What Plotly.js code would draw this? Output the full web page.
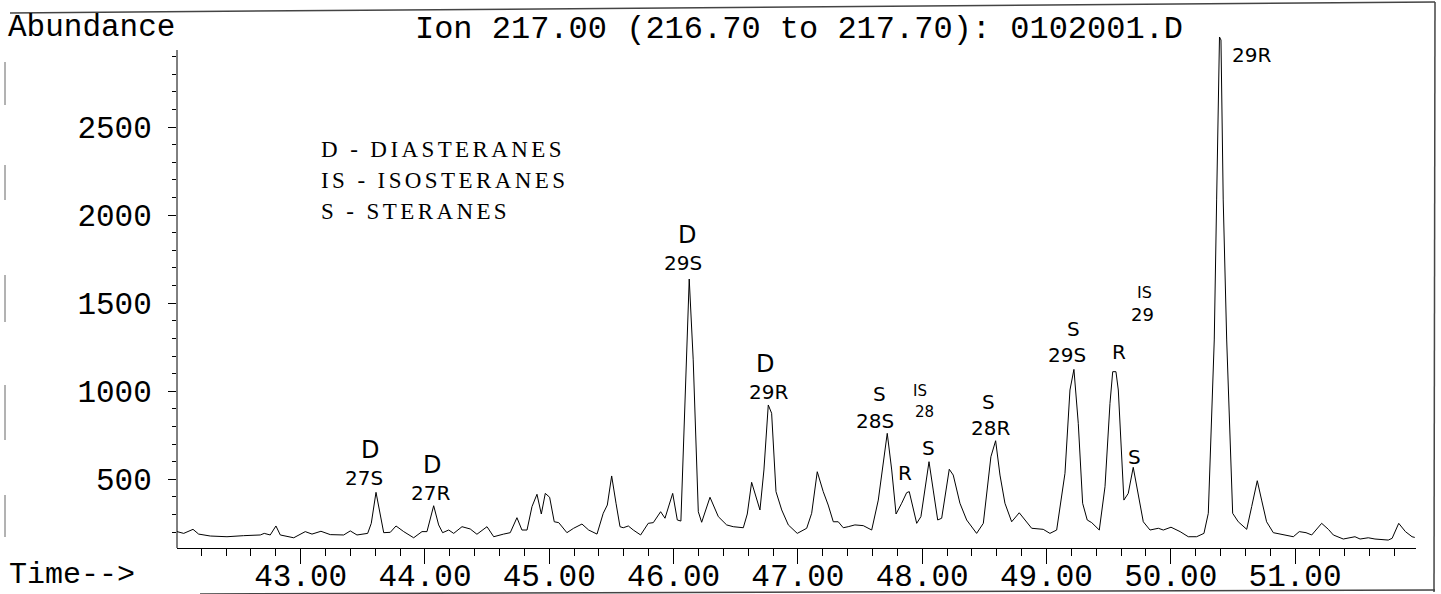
<!DOCTYPE html>
<html><head><meta charset="utf-8">
<script src="https://cdn.plot.ly/plotly-3.0.1.min.js"></script>
<style>html,body{margin:0;padding:0;background:#fff}#chart{width:1441px;height:594px}</style>
</head><body><div id="chart"></div>
<script>
// Retention time (min) and abundance of the ion 217 trace
const retentionTime = [42.005,42.059,42.134,42.179,42.273,42.407,42.541,42.675,42.707,42.755,42.801,42.836,42.944,43.037,43.091,43.163,43.238,43.346,43.399,43.453,43.539,43.568,43.606,43.640,43.668,43.721,43.767,43.829,43.909,43.976,44.016,44.070,44.110,44.142,44.191,44.231,44.298,44.364,44.418,44.499,44.553,44.633,44.686,44.740,44.780,44.821,44.861,44.901,44.936,44.968,45.003,45.040,45.076,45.142,45.196,45.263,45.317,45.384,45.434,45.467,45.502,45.537,45.569,45.595,45.636,45.676,45.735,45.796,45.837,45.896,45.931,45.993,46.030,46.059,46.105,46.126,46.158,46.199,46.226,46.293,46.360,46.427,46.480,46.561,46.593,46.628,46.695,46.727,46.762,46.789,46.824,46.870,46.923,46.995,47.071,47.111,47.156,47.204,47.244,47.285,47.325,47.365,47.405,47.459,47.526,47.594,47.647,47.719,47.755,47.790,47.835,47.875,47.896,47.956,47.990,48.055,48.089,48.125,48.157,48.218,48.250,48.304,48.358,48.438,48.492,48.553,48.591,48.626,48.666,48.720,48.781,48.827,48.881,48.974,49.028,49.082,49.149,49.189,49.221,49.256,49.291,49.328,49.364,49.425,49.471,49.511,49.533,49.559,49.578,49.623,49.658,49.698,49.734,49.779,49.833,49.900,49.940,50.002,50.075,50.141,50.208,50.267,50.302,50.329,50.350,50.369,50.392,50.404,50.422,50.450,50.471,50.498,50.543,50.611,50.651,50.696,50.731,50.771,50.825,50.932,50.986,51.034,51.088,51.134,51.214,51.268,51.308,51.388,51.482,51.523,51.589,51.643,51.750,51.781,51.834,51.888,51.941,51.963];
const abundance = [203,193,216,189,178,174,180,184,193,184,235,184,168,203,189,205,186,184,207,184,193,250,426,307,197,199,235,203,168,203,203,350,241,197,212,193,231,218,188,231,174,189,197,282,212,212,345,415,303,420,398,259,254,197,222,246,212,189,307,354,519,364,231,225,235,212,184,250,254,316,279,420,269,263,1178,1637,1178,316,256,398,288,241,231,225,303,483,326,553,922,875,430,326,241,193,222,307,543,430,354,259,259,225,231,241,237,212,382,761,553,303,364,424,430,250,288,600,439,269,279,557,524,364,269,193,250,628,719,524,364,259,310,269,222,216,193,212,534,1007,1124,818,364,269,254,212,458,931,1111,1111,1007,382,420,568,430,259,212,222,212,228,203,174,174,193,307,912,1291,2086,3011,2994,2086,1291,818,307,259,216,345,492,382,259,197,184,174,203,197,184,250,216,184,161,174,161,168,161,155,165,250,203,174,170];

// Axis ticks
const xTickVals = [43,44,45,46,47,48,49,50,51];
const xTickText = ["43.00","44.00","45.00","46.00","47.00","48.00","49.00","50.00","51.00"];
const yTickVals = [500,1000,1500,2000,2500];
const yMinorVals = [200,300,400,600,700,800,900,1100,1200,1300,1400,1600,1700,1800,1900,2100,2200,2300,2400,2600,2700,2800,2900];

// Hand-written peak labels
const peakLabels = ["D","27S","D","27R","D","29S","D","29R","S","28S","IS","28","R","S","S","28R","S","29S","R","IS","29","S","S","29R"];
const peakLabelTime = [43.56,43.507,44.056,44.043,46.105,46.078,46.735,46.762,47.66,47.62,47.982,48.017,47.862,48.049,48.532,48.547,49.216,49.163,49.586,49.792,49.774,49.712,50.557,50.651];
const peakLabelAbund = [664,506,579,420,1885,1726,1156,997,984,833,1001,884,534,676,939,790,1353,1206,1224,1563,1433,628,3056,2909];
const peakLabelSize = [24,20,24,20,24,20,24,20,20,20,15,15,20,20,20,20,20,20,20,16,18,20,20,20];

// Key text
const keyLines = ["D - DIASTERANES","IS - ISOSTERANES","S - STERANES"];

const W = 1441, H = 594, L = 177, R = 25, T = 34, B = 46;
const pw = W - L - R, ph = H - T - B;
const px = v => (v - L) / pw;            // pixel -> paper x
const py = v => (H - B - v) / ph;        // pixel -> paper y

const mono = 'Liberation Mono, Courier New, monospace';
const hand = 'DejaVu Sans, sans-serif';

const annotations = [];
annotations.push({text:'Abundance', xref:'paper', yref:'paper', x:px(91.5), y:py(27), xanchor:'center', yanchor:'middle', showarrow:false, font:{family:mono, size:31, color:'#000'}});
annotations.push({text:'Time-->', xref:'paper', yref:'paper', x:px(72), y:py(575), xanchor:'center', yanchor:'middle', showarrow:false, font:{family:mono, size:30, color:'#000'}});
const keyY = [149, 180, 211];
keyLines.forEach((t, i) => annotations.push({text:'<span style="letter-spacing:3.4px">' + t + '</span>', xref:'paper', yref:'paper', x:px(319), y:py(keyY[i]), xanchor:'left', yanchor:'middle', showarrow:false, font:{family:'Liberation Serif, Times New Roman, serif', size:23, color:'#000'}}));
peakLabels.forEach((t, i) => annotations.push({text:t, xref:'x', yref:'y', x:peakLabelTime[i], y:peakLabelAbund[i], xanchor:'center', yanchor:'middle', showarrow:false, font:{family:hand, size:peakLabelSize[i], color:'#000'}}));

const shapes = [
  // y axis line (stops below the top of the frame)
  {type:'line', xref:'paper', yref:'y', x0:0, x1:0, y0:110, y1:2937, line:{color:'#000', width:1}},
  // scanned page frame lines
  {type:'line', xref:'paper', yref:'paper', x0:px(10), x1:px(1435), y0:py(13), y1:py(2), line:{color:'#444', width:1.5}},
  {type:'line', xref:'paper', yref:'paper', x0:px(1435), x1:px(1434), y0:py(2), y1:py(592), line:{color:'#444', width:1.5}},
  {type:'line', xref:'paper', yref:'paper', x0:px(200), x1:px(1435), y0:py(594), y1:py(590), line:{color:'#444', width:1.5}}
];
[[62,105],[165,200],[275,322],[385,440],[495,537]].forEach(s => shapes.push({type:'line', xref:'paper', yref:'paper', x0:px(5), x1:px(5), y0:py(s[0]), y1:py(s[1]), line:{color:'#666', width:1}}));

const trace = {x:retentionTime, y:abundance, type:'scatter', mode:'lines', line:{color:'#000', width:1}, hoverinfo:'x+y'};

const layout = {
  width:W, height:H, paper_bgcolor:'#fff', plot_bgcolor:'#fff', showlegend:false,
  margin:{l:L, r:R, t:T, b:B, pad:0},
  title:{text:'Ion 217.00 (216.70 to 217.70): 0102001.D', font:{family:mono, size:32, color:'#000'}, xref:'container', yref:'container', x:799/W, xanchor:'center', y:1 - 27/H, yanchor:'middle'},
  xaxis:{range:[42.005, 51.973], showgrid:false, zeroline:false, showline:true, linecolor:'#000', linewidth:1,
    tickmode:'array', tickvals:xTickVals, ticktext:xTickText, ticks:'outside', ticklen:15, tickwidth:1, tickcolor:'#000',
    tickfont:{family:mono, size:31, color:'#000'}, ticklabelstandoff:-15,
    minor:{tickmode:'linear', tick0:43, dtick:0.2, ticks:'outside', ticklen:7, tickwidth:1, tickcolor:'#000', showgrid:false}, automargin:false},
  yaxis:{range:[110, 3028], showgrid:false, zeroline:false, showline:false,
    tickmode:'array', tickvals:yTickVals, ticks:'outside', ticklen:8, tickwidth:1, tickcolor:'#000',
    tickfont:{family:mono, size:31, color:'#000'}, ticklabelstandoff:10,
    minor:{tickmode:'array', tickvals:yMinorVals, ticks:'outside', ticklen:4, tickwidth:1, tickcolor:'#000', showgrid:false}, automargin:false},
  annotations:annotations, shapes:shapes
};
Plotly.newPlot('chart', [trace], layout, {displayModeBar:false, staticPlot:true});
</script></body></html>
